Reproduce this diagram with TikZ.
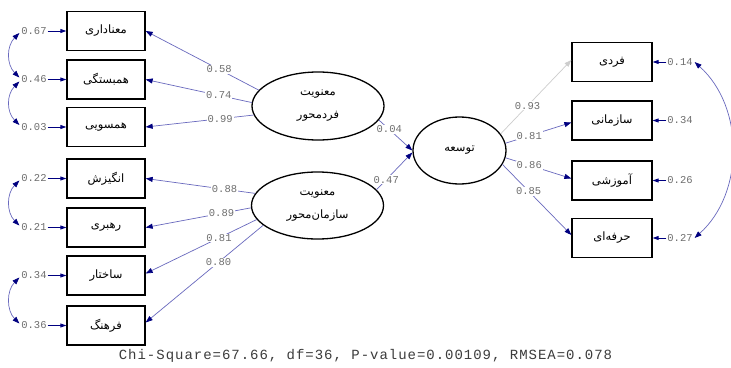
\documentclass[tikz,border=0pt]{standalone}
\usepackage{fontspec}
\TeXXeTstate=1
\newfontfamily\fa[Script=Arabic]{DejaVu Sans}
\newfontfamily\mono{Liberation Mono}
\newfontfamily\monowide[LetterSpace=7]{Liberation Mono}
\usetikzlibrary{arrows.meta,shapes.geometric}
\definecolor{pathblue}{RGB}{105,105,190}
\definecolor{headnavy}{RGB}{0,0,128}
\definecolor{numgray}{RGB}{110,110,110}
\definecolor{lightpath}{RGB}{205,205,205}
\newcommand\fatxt[1]{{\fa\beginR #1\endR}}
\begin{document}
\begin{tikzpicture}[x=1pt,y=-1pt,
  obs/.style={draw,line width=1.3pt,minimum width=78pt,minimum height=39pt,inner sep=0pt,font=\fa\fontsize{11.5}{13}\selectfont},
  lat/.style={draw,ellipse,line width=1.3pt,inner sep=0pt,align=center,font=\fa\fontsize{11.5}{13}\selectfont},
  num/.style={font=\mono\fontsize{10.5}{12}\selectfont,text=numgray,inner sep=0.8pt},
  lbl/.style={num,fill=white},
  load/.style={draw=pathblue,line width=0.7pt,-{Triangle[length=7pt,width=5pt,color=headnavy]}},
  loadgray/.style={draw=lightpath,line width=0.7pt,-{Triangle[length=7pt,width=5pt,color=lightpath]}},
  err/.style={draw=headnavy,line width=0.9pt,-{Triangle[length=6pt,width=4pt]}},
  corr/.style={draw=pathblue,line width=0.7pt,{Triangle[length=7pt,width=5pt,color=headnavy]}-{Triangle[length=7pt,width=5pt,color=headnavy]}},
]
\fill[white] (0,0) rectangle (731,367);
\useasboundingbox (0,0) rectangle (731,367);

% latent variables
\node[lat,minimum width=132pt,minimum height=68pt] (L1) at (318,106) {\fatxt{معنویت}\\[10pt]\fatxt{فردمحور}};
\node[lat,minimum width=132pt,minimum height=67pt] (L2) at (317.5,205.5) {\fatxt{معنویت}\\[10pt]\fatxt{سازمان‌محور}};
\node[lat,minimum width=93pt,minimum height=67pt] (T) at (459.5,150.5) {\fatxt{توسعه}};

% left observed
\node[obs] (b1) at (106,31) {\fatxt{معناداری}};
\node[obs] (b2) at (106,79.5) {\fatxt{همبستگی}};
\node[obs] (b3) at (106,127) {\fatxt{همسویی}};
\node[obs] (b4) at (106,178.5) {\fatxt{انگیزش}};
\node[obs] (b5) at (106,227.5) {\fatxt{رهبری}};
\node[obs] (b6) at (106,275.5) {\fatxt{ساختار}};
\node[obs] (b7) at (106,325.5) {\fatxt{فرهنگ}};

% right observed
\node[obs,minimum width=80pt] (r1) at (612,62) {\fatxt{فردی}};
\node[obs,minimum width=80pt] (r2) at (612,120.5) {\fatxt{سازمانی}};
\node[obs,minimum width=80pt] (r3) at (612,180.5) {\fatxt{آموزشی}};
\node[obs,minimum width=80pt] (r4) at (612,238) {\fatxt{حرفه‌ای}};

% error terms left
\node[num] (e1) at (34,31) {0.67};
\node[num] (e2) at (34,79.5) {0.46};
\node[num] (e3) at (34,127) {0.03};
\node[num] (e4) at (34,178.5) {0.22};
\node[num] (e5) at (34,227.5) {0.21};
\node[num] (e6) at (34,275.5) {0.34};
\node[num] (e7) at (34,325.5) {0.36};
\foreach \i in {1,...,7} {\draw[err] (e\i.east) -- (b\i.west);}

% error terms right
\node[num] (f1) at (680,62) {0.14};
\node[num] (f2) at (680,120.5) {0.34};
\node[num] (f3) at (680,180.5) {0.26};
\node[num] (f4) at (680,238) {0.27};
\foreach \i in {1,...,4} {\draw[err] (f\i.west) -- (r\i.east);}

% error covariances
\draw[corr] ([xshift=-1pt,yshift=-2pt]e1.west) .. controls +(-13,13) and +(-13,-13) .. ([xshift=-1pt,yshift=2pt]e2.west);
\draw[corr] ([xshift=-1pt,yshift=-2pt]e2.west) .. controls +(-13,13) and +(-13,-13) .. ([xshift=-1pt,yshift=2pt]e3.west);
\draw[corr] ([xshift=-1pt,yshift=-2pt]e4.west) .. controls +(-13,13) and +(-13,-13) .. ([xshift=-1pt,yshift=2pt]e5.west);
\draw[corr] ([xshift=-1pt,yshift=-2pt]e6.west) .. controls +(-13,13) and +(-13,-13) .. ([xshift=-1pt,yshift=2pt]e7.west);
\draw[corr] ([xshift=1pt]f1.east) .. controls +(50,45) and +(50,-45) .. ([xshift=1pt]f4.east);

% loadings left
\draw[load] (L1.165) -- node[lbl,pos=0.35] {0.58} (b1.east);
\draw[load] (L1.177) -- node[lbl,pos=0.31] {0.74} (b2.east);
\draw[load] (L1.188.5) -- node[lbl,pos=0.31] {0.99} (b3.east);
\draw[load] (L2.169) -- node[lbl,pos=0.28] {0.88} (b4.east);
\draw[load] (L2.182) -- node[lbl,pos=0.28] {0.89} (b5.east);
\draw[load] (L2.193) -- node[lbl,pos=0.34] {0.81} ([yshift=2pt]b6.east);
\draw[load] (L2.200) -- node[lbl,pos=0.38] {0.80} ([yshift=3pt]b7.east);

% structural
\draw[load] (L1.347) -- node[lbl,pos=0.31] {0.04} (T.west);
\draw[load] (L2.15.6) -- node[lbl,pos=0.27] {0.47} ([yshift=-2pt]T.west);

% loadings right
\draw[loadgray] (T.22) -- node[lbl,pos=0.38] {0.93} ([yshift=2pt]r1.west);
\draw[load] (T.9) -- node[lbl,pos=0.36] {0.81} ([yshift=-2pt]r2.west);
\draw[load] (T.-9) -- node[lbl,pos=0.36] {0.86} ([yshift=2pt]r3.west);
\draw[load] (T.-18) -- node[lbl,pos=0.38] {0.85} ([yshift=3pt]r4.west);

% fit statistics
\node[font=\monowide\fontsize{14}{16}\selectfont,text={rgb,255:red,60;green,60;blue,60},inner sep=0pt] (fit) at (365.5,356) {Chi-Square=67.66, df=36, P-value=0.00109, RMSEA=0.078};
\end{tikzpicture}
\end{document}
